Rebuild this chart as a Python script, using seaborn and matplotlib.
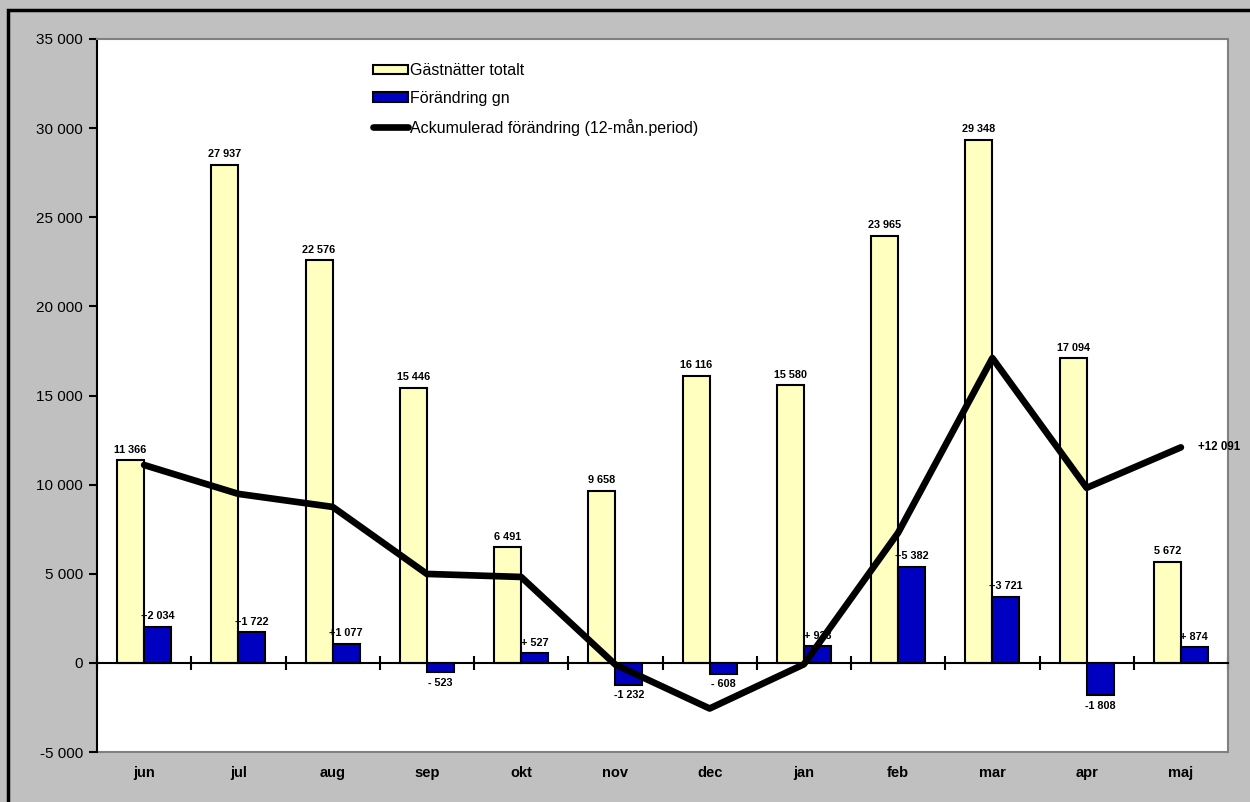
import matplotlib
matplotlib.use("Agg")
import matplotlib.pyplot as plt
import seaborn as sns
import pandas as pd
import numpy as np
from matplotlib.patches import Patch, Rectangle
from matplotlib.lines import Line2D

# Daten
months = ["jun", "jul", "aug", "sep", "okt", "nov", "dec", "jan", "feb", "mar", "apr", "maj"]
gastnatter = [11366, 27937, 22576, 15446, 6491, 9658, 16116, 15580, 23965, 29348, 17094, 5672]
forandring = [2034, 1722, 1077, -523, 527, -1232, -608, 923, 5382, 3721, -1808, 874]
ackumulerad = [11100, 9480, 8750, 4990, 4820, -100, -2560, -80, 7300, 17100, 9820, 12091]
series = ["Gästnätter totalt", "Förändring gn", "Ackumulerad förändring (12-mån.period)"]

yellow = "#FFFFC0"
blue = "#0000C0"
gray = "#808080"

df = pd.DataFrame({
    "month": months * 2,
    "value": gastnatter + forandring,
    "serie": [series[0]] * 12 + [series[1]] * 12,
})

sns.set_style("white")
plt.rcParams["font.family"] = ["Liberation Sans", "DejaVu Sans"]
plt.rcParams["text.color"] = "black"
plt.rcParams["xtick.color"] = "black"
plt.rcParams["ytick.color"] = "black"
plt.rcParams["xtick.labelcolor"] = "black"
plt.rcParams["ytick.labelcolor"] = "black"

fig = plt.figure(figsize=(12.5, 8.02), dpi=100, facecolor="#C0C0C0")
ax = fig.add_axes([97 / 1250, 1 - 752 / 802, (1228 - 97) / 1250, (752 - 39) / 802])
ax.set_facecolor("white")

sns.barplot(data=df, x="month", y="value", hue="serie", order=months,
            palette=[yellow, blue], width=0.573, edgecolor="black",
            linewidth=1.5, saturation=1, legend=False, ax=ax)

sns.lineplot(x=np.arange(len(months)), y=ackumulerad, color="black",
             linewidth=4.8, ax=ax, zorder=5)

# Etiketter
def fmt_total(v):
    return f"{v:,}".replace(",", " ")

def fmt_diff(v):
    sign = "+" if v >= 0 else "-"
    a = abs(v)
    s = f"{a:,}".replace(",", " ")
    return sign + s if a >= 1000 else sign + " " + s

lab_kw = dict(fontsize=7.8, fontweight="bold", padding=4)
ax.bar_label(ax.containers[0], labels=[fmt_total(v) for v in gastnatter], **lab_kw)
ax.bar_label(ax.containers[1], labels=[fmt_diff(v) for v in forandring], **lab_kw)

ax.annotate(fmt_diff(ackumulerad[-1]), xy=(len(months) - 1, ackumulerad[-1]),
            xytext=(12, 0), textcoords="offset points", va="center", ha="left",
            fontsize=8.3, fontweight="bold", annotation_clip=False)

# Spines (vor den Ticks, da set_position die Ticks zurücksetzt)
ax.spines["bottom"].set_position(("data", 0))
ax.spines["bottom"].set_color("black")
ax.spines["bottom"].set_linewidth(1.5)
ax.spines["left"].set_color("black")
ax.spines["left"].set_linewidth(1.5)
for s in ["top", "right"]:
    ax.spines[s].set_visible(True)
    ax.spines[s].set_color(gray)
    ax.spines[s].set_linewidth(1.5)
ax.axhline(-5000, color=gray, linewidth=1.5, clip_on=False, zorder=0)

# Achsen
ax.set_ylim(-5000, 35000)
ax.set_xlim(-0.5, len(months) - 0.5)
yt = np.arange(-5000, 35001, 5000)
ax.set_yticks(yt)
ax.set_yticklabels([f"{v:,}".replace(",", " ") for v in yt], fontsize=11)
ax.tick_params(axis="y", left=True, direction="out", length=6, width=1.5,
               color="black", labelcolor="black", pad=4)

ax.set_xticks(range(len(months)))
ax.set_xticklabels(months, fontsize=10.5, fontweight="bold")
ax.set_xticks(np.arange(-0.5, len(months), 1), minor=True)
ax.tick_params(axis="x", which="major", bottom=True, length=0, pad=74, labelcolor="black")
ax.tick_params(axis="x", which="minor", bottom=True, direction="inout", length=10,
               width=1.5, color="black")
plt.setp(ax.get_xticklabels(), fontweight="bold", color="black")
ax.set_xlabel("")
ax.set_ylabel("")

# Legende
handles = [
    Patch(facecolor=yellow, edgecolor="black", linewidth=1.5),
    Patch(facecolor=blue, edgecolor="black", linewidth=1.5),
    Line2D([0], [0], color="black", linewidth=4.8),
]
fig.legend(handles, series, loc="upper left", bbox_to_anchor=(373 / 1250, 1 - 63 / 802),
           frameon=False, fontsize=11.5, handlelength=2.2, handleheight=0.55,
           handletextpad=0.1, labelspacing=0.8, borderpad=0, borderaxespad=0)

# Rahmen
fig.patches.append(Rectangle((8 / 1250, -0.05), 1.2, 1.05 - 10 / 802, transform=fig.transFigure,
                             fill=False, edgecolor="black", linewidth=2.5))

fig.savefig("out.png", dpi=100, facecolor=fig.get_facecolor())
